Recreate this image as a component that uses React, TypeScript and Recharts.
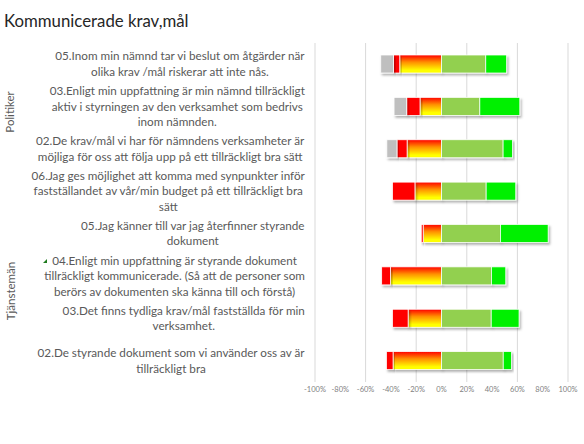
import React from 'react'
import { BarChart, Bar, XAxis, YAxis, CartesianGrid } from 'recharts'

const questions = [
  '05.Inom min nämnd tar vi beslut om åtgärder när\nolika krav /mål riskerar att inte nås.',
  '03.Enligt min uppfattning är min nämnd tillräckligt\naktiv i styrningen av den verksamhet som bedrivs\ninom nämnden.',
  '02.De krav/mål vi har för nämndens verksamheter är\nmöjliga för oss att följa upp på ett tillräckligt bra sätt',
  '06.Jag ges möjlighet att komma med synpunkter inför\nfastställandet av vår/min budget på ett tillräckligt bra\nsätt',
  '05.Jag känner till var jag återfinner styrande\ndokument',
  '04.Enligt min uppfattning är styrande dokument\ntillräckligt kommunicerade. (Så att de personer som\nberörs av dokumenten ska känna till och förstå)',
  '03.Det finns tydliga krav/mål fastställda för min\nverksamhet.',
  '02.De styrande dokument som vi använder oss av är\ntillräckligt bra',
]

// percent of answers per question
const vetEj = [10, 10, 8, 0, 0, 0, 0, 0]
const stammerInteAlls = [5, 10.5, 8, 17.7, 1.5, 7, 12.3, 5.2]
const stammerDaligt = [33, 17, 27.2, 21, 14.5, 40.3, 26.4, 38.3]
const stammerGanskaBra = [35, 30.3, 48.7, 35.3, 46.6, 39.5, 39.3, 48.8]
const stammerHelt = [16.5, 31.6, 7.4, 23.4, 37.7, 11.3, 22, 6.5]

const xTicks = [-100, -80, -60, -40, -20, 0, 20, 40, 60, 80, 100]

const data = questions.map((label, i) => ({
  label,
  daligt: -stammerDaligt[i],
  inteAlls: -stammerInteAlls[i],
  vetEj: -vetEj[i],
  ganskaBra: stammerGanskaBra[i],
  helt: stammerHelt[i],
}))

const FONT = 'Lato, "Open Sans", sans-serif'
const LABEL_SIZE = 11.7

let ctx: CanvasRenderingContext2D | null = null
function textWidth(s: string) {
  if (!ctx) {
    ctx = document.createElement('canvas').getContext('2d')
  }
  if (!ctx) return s.length * 5.6
  ctx.font = `${LABEL_SIZE}px ${FONT}`
  return ctx.measureText(s).width
}

function LabelTick(props: any) {
  const { y, payload } = props
  const lines: string[] = String(payload.value).split('\n')
  const maxW = Math.max(...lines.map(textWidth))
  const cx = 305 - maxW / 2
  return (
    <text textAnchor="middle" fill="#595959" fontSize={LABEL_SIZE} fontFamily={FONT}>
      {lines.map((ln, i) => (
        <tspan key={i} x={cx} y={y + (i - (lines.length - 1) / 2) * 15.5 + 4}>
          {ln}
        </tspan>
      ))}
    </text>
  )
}

function Segment(props: any) {
  const { x, y, width, height, fill } = props
  if (!width || Math.abs(width) < 0.5) return null
  const x0 = width < 0 ? x + width : x
  return (
    <rect
      x={x0}
      y={y}
      width={Math.abs(width)}
      height={height}
      fill={fill}
      stroke="#ffffff"
      strokeWidth={0.75}
      filter="url(#barShadow)"
    />
  )
}

export default function App() {
  return (
    <div style={{ position: 'absolute', left: 0, top: 0, width: 584, height: 444, background: '#fff' }}>
      <BarChart
        width={584}
        height={444}
        data={data}
        layout="vertical"
        stackOffset="sign"
        margin={{ top: 43, right: 16, bottom: 32, left: 0 }}
      >
        <defs>
          <linearGradient id="redYellow" x1="0" y1="0" x2="0" y2="1">
            <stop offset="0%" stopColor="#FF0000" />
            <stop offset="40%" stopColor="#FF9000" />
            <stop offset="85%" stopColor="#FFFF00" />
            <stop offset="100%" stopColor="#FFFF00" />
          </linearGradient>
          <filter id="barShadow" x="-10%" y="-30%" width="130%" height="180%">
            <feDropShadow dx="1.5" dy="2" stdDeviation="1.2" floodColor="#000" floodOpacity="0.3" />
          </filter>
        </defs>
        <CartesianGrid horizontal={false} stroke="#D9D9D9" />
        <XAxis
          type="number"
          domain={[-100, 100]}
          ticks={xTicks}
          tickFormatter={(v: number) => `${v}%`}
          axisLine={false}
          tickLine={false}
          tickSize={0}
          tickMargin={5}
          tick={{ fontSize: 7.5, fill: '#7F7F7F', fontFamily: FONT }}
          allowDataOverflow
        />
        <YAxis
          type="category"
          dataKey="label"
          width={315}
          axisLine={false}
          tickLine={false}
          interval={0}
          tick={(p: any) => <LabelTick {...p} />}
        />
        <Bar dataKey="daligt" name="Stämmer ganska dåligt" stackId="a" fill="url(#redYellow)" barSize={18} shape={Segment} isAnimationActive={false} />
        <Bar dataKey="inteAlls" name="Stämmer inte alls" stackId="a" fill="#FF0000" barSize={18} shape={Segment} isAnimationActive={false} />
        <Bar dataKey="vetEj" name="Vet ej" stackId="a" fill="#BFBFBF" barSize={18} shape={Segment} isAnimationActive={false} />
        <Bar dataKey="ganskaBra" name="Stämmer ganska bra" stackId="a" fill="#92D050" barSize={18} shape={Segment} isAnimationActive={false} />
        <Bar dataKey="helt" name="Stämmer helt" stackId="a" fill="#00F000" barSize={18} shape={Segment} isAnimationActive={false} />
      </BarChart>
      <svg
        width={584}
        height={444}
        style={{ position: 'absolute', left: 0, top: 0, pointerEvents: 'none' }}
      >
        <text x={4} y={27} fontSize={16.8} fill="#262626" fontFamily={FONT}>
          Kommunicerade krav,mål
        </text>
        <text
          transform="translate(14, 112) rotate(-90)"
          textAnchor="middle"
          fontSize={11.5}
          fill="#595959"
          fontFamily={FONT}
        >
          Politiker
        </text>
        <text
          transform="translate(15, 291) rotate(-90)"
          textAnchor="middle"
          fontSize={11.5}
          fill="#595959"
          fontFamily={FONT}
        >
          Tjänstemän
        </text>
        <polygon points="43,263 47,259 47,263" fill="#1E7B1E" />
      </svg>
    </div>
  )
}
